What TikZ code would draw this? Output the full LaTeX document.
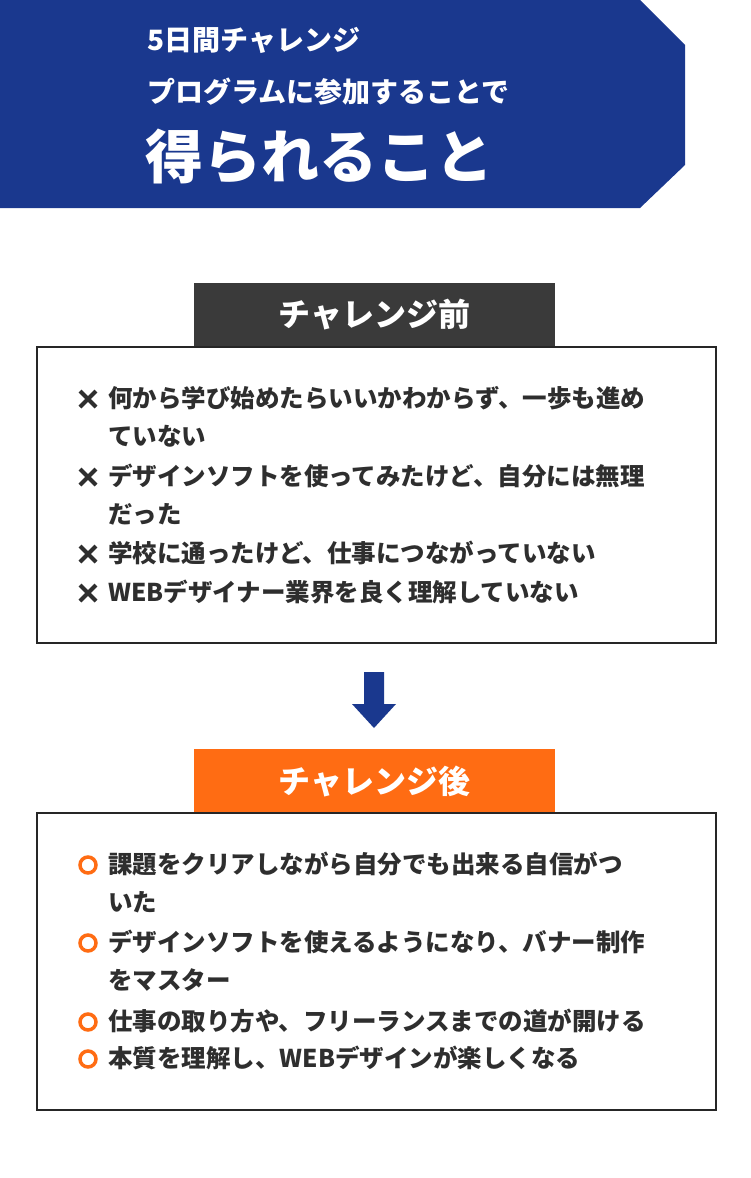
\documentclass[tikz,border=0pt]{standalone}
\usepackage{fontspec}
\setmainfont{Noto Sans CJK JP}
\definecolor{navy}{HTML}{1A388E}
\definecolor{dgray}{HTML}{3A3A3A}
\definecolor{orng}{HTML}{FF6C13}
\definecolor{txt}{HTML}{2E2E2E}
\begin{document}
\begin{tikzpicture}[x=1pt,y=-1pt,
  item/.style={anchor=west,inner sep=0pt,text=txt,font=\fontsize{24.5}{26}\selectfont\bfseries},
  head/.style={anchor=west,inner sep=0pt,text=white,font=\fontsize{28}{30}\selectfont\bfseries},
  tab/.style={minimum width=361pt,minimum height=64pt,inner sep=0pt,text=white,font=\fontsize{32}{34}\selectfont\bfseries},
  frame/.style={draw=black!85,line width=1.3pt},
  xmark/.style={line width=4pt,txt},
  omark/.style={draw=orng,line width=3.5pt}]
\useasboundingbox (0,0) rectangle (750,1178);
\fill[navy] (0,0) -- (640,0) -- (685,45) -- (685,165) -- (640,208) -- (0,208) -- cycle;
\node[head] (h1) at (147,40) {5日間チャレンジ};
\node[head] (h2) at (147,92) {プログラムに参加することで};
\node[head,font=\fontsize{58}{60}\selectfont\bfseries] (h3) at (145,157) {得られること};
% before
\node[tab,fill=dgray] (t1) at (374.5,315) {チャレンジ前};
\draw[frame] (37,347) rectangle (716,643);
\foreach \y in {398,476,553,592}{\draw[xmark] (80,\y-7) -- (96,\y+9) (96,\y-7) -- (80,\y+9);}
\node[item] (a1) at (108,398) {何から学び始めたらいいかわからず、一歩も進め};
\node[item] (a1b) at (108,436) {ていない};
\node[item] (a2) at (108,476) {デザインソフトを使ってみたけど、自分には無理};
\node[item] (a2b) at (108,514) {だった};
\node[item] (a3) at (108,553) {学校に通ったけど、仕事につながっていない};
\node[item] (a4) at (108,592) {WEBデザイナー業界を良く理解していない};
% arrow
\fill[navy] (364,672) -- (384,672) -- (384,704) -- (396,704) -- (374,728) -- (352,704) -- (364,704) -- cycle;
% after
\node[tab,fill=orng] (t2) at (374.5,781) {チャレンジ後};
\draw[frame] (37,813) rectangle (716,1110);
\foreach \y in {864,942,1021,1058}{\draw[omark] (88,\y+1) circle (8);}
\node[item] (b1) at (108,864) {課題をクリアしながら自分でも出来る自信がつ};
\node[item] (b1b) at (108,902) {いた};
\node[item] (b2) at (108,942) {デザインソフトを使えるようになり、バナー制作};
\node[item] (b2b) at (108,980) {をマスター};
\node[item] (b3) at (108,1021) {仕事の取り方や、フリーランスまでの道が開ける};
\node[item] (b4) at (108,1058) {本質を理解し、WEBデザインが楽しくなる};
\end{tikzpicture}
\end{document}
